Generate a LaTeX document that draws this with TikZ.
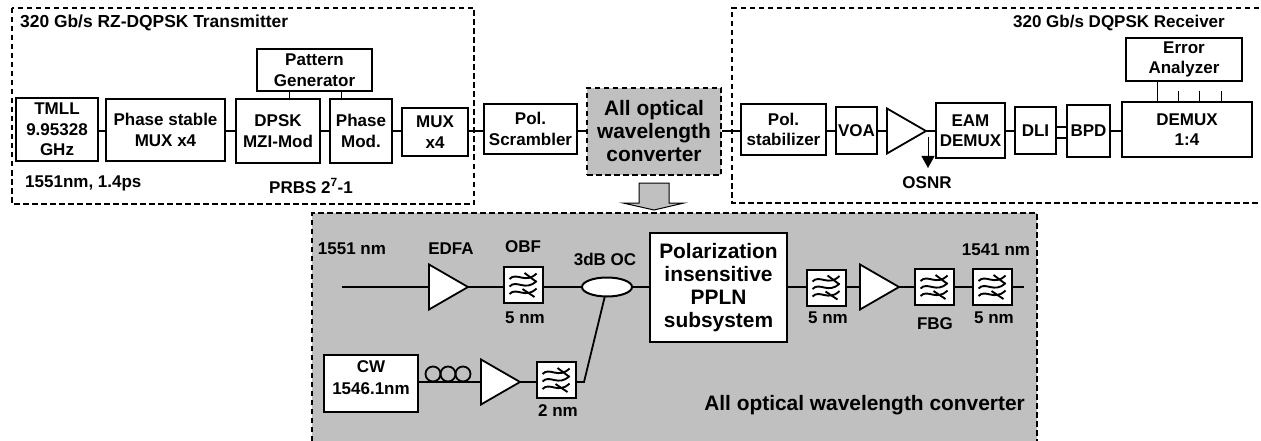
\documentclass[tikz,border=0pt]{standalone}
\usepackage{fontspec}
\setmainfont{Liberation Sans}
\usepackage{xcolor}
\usetikzlibrary{
    positioning,
    arrows.meta,
    calc,
    shapes.geometric
}
\definecolor{panelgray}{HTML}{C0C0C0}
\tikzset{
    wire/.style={line width=1.8pt},
    thinwire/.style={line width=0.9pt},
    dashframe/.style={line width=1.5pt, dash pattern=on 5.5pt off 3.5pt},
    labeltext/.style={font=\bfseries\fontsize{17}{20.5}\selectfont, inner sep=0pt, align=center},
    bigtext/.style={font=\bfseries\fontsize{20.9}{23}\selectfont, inner sep=0pt, align=center},
    blockbox/.style={draw, line width=2pt, fill=white, inner sep=0pt, outer sep=0pt, align=center, font=\bfseries\fontsize{17}{20.5}\selectfont},
    amptri/.style={draw, line width=1.8pt, fill=white, shape=isosceles triangle, isosceles triangle stretches, minimum width=45pt, minimum height=39pt, inner sep=0pt, outer sep=0pt, anchor=apex},
    filterbox/.style={blockbox, minimum width=39pt, minimum height=36pt,
        path picture={
            \begin{scope}[shift={(path picture bounding box.center)}, line width=1.9pt]
                \foreach \w in {-7.5,0,7.5} {
                    \draw (-14,\w+1.5) .. controls (-7,\w-6) and (2,\w+7) .. (13,\w-4);
                }
                \draw (1,-12) -- (13,-3);
                \draw (-1,4) -- (11,12);
            \end{scope}
        }}
}
\begin{document}
\begin{tikzpicture}[x=1pt,y=-1pt]
    \useasboundingbox (0,0) rectangle (1261,441);
    \coordinate (rail) at (0,131);
    \coordinate (lowrail) at (0,287);
    \coordinate (cwrail) at (0,382);

    % frames
    \draw[dashframe] (12,8) rectangle (474,204);
    \draw[dashframe] (1259,8) -- (732,8) -- (732,203) -- (1259,203);
    \fill[panelgray] (312,213) rectangle (1037,441);
    \draw[dashframe] (312,441) -- (312,213) -- (1037,213) -- (1037,441);

    % transmitter
    \node[blockbox, minimum width=82pt, minimum height=63pt] (tmll) at (57,129.5) {TMLL\\9.95328\\GHz};
    \node[blockbox, minimum width=119pt, minimum height=62pt] (stablemux) at (165.5,130) {Phase stable\\MUX x4};
    \node[blockbox, minimum width=84pt, minimum height=64pt] (dpsk) at (278,131) {DPSK\\MZI-Mod};
    \node[blockbox, minimum width=62pt, minimum height=64pt] (phasemod) at (361,131) {Phase\\Mod.};
    \node[blockbox, minimum width=66pt, minimum height=48pt] (muxfour) at (435,132) {MUX\\x4};
    \node[blockbox, minimum width=115pt, minimum height=42pt] (pattern) at (314.5,70) {Pattern\\Generator};

    % middle
    \node[blockbox, minimum width=93pt, minimum height=50pt] (scrambler) at (530.5,129) {Pol.\\Scrambler};
    \node[bigtext, draw, dashframe, fill=panelgray, minimum width=134pt, minimum height=87pt] (converter) at (654,131.5) {All optical\\wavelength\\converter};
    \draw[line width=1pt, fill=panelgray] (639,183) -- (669,183) -- (669,203) -- (684,203) -- (654,210) -- (623,203) -- (639,203) -- cycle;

    % receiver
    \node[blockbox, minimum width=85pt, minimum height=51pt] (stabilizer) at (783.5,129.5) {Pol.\\stabilizer};
    \node[blockbox, minimum width=41pt, minimum height=47pt] (voa) at (856.5,130.5) {VOA};
    \node[amptri] (ampa) at (926,131) {};
    \node[blockbox, minimum width=69pt, minimum height=55pt] (eam) at (970.5,130.5) {EAM\\DEMUX};
    \node[blockbox, minimum width=41pt, minimum height=47pt] (dli) at (1035.5,130.5) {DLI};
    \node[blockbox, minimum width=43pt, minimum height=52pt] (bpd) at (1088.5,131) {BPD};
    \node[blockbox, minimum width=130pt, minimum height=55pt] (demuxb) at (1187,129.5) {DEMUX\\1:4};
    \node[blockbox, minimum width=116pt, minimum height=43pt] (analyzer) at (1184,59.5) {Error\\Analyzer};
    \coordinate (osnrtap) at (928,137);
    \coordinate (osnrend) at (928,168);

    % converter detail
    \coordinate (inputa) at (342,287);
    \coordinate (outputa) at (1024,287);
    \node[amptri] (ampb) at (468,287) {};
    \node[filterbox] (obf) at (523.5,285) {};
    \node[draw, line width=2pt, fill=white, shape=ellipse, minimum width=50pt, minimum height=19pt, inner sep=0pt, outer sep=0pt] (coupler) at (607,287) {};
    \node[blockbox, minimum width=137pt, minimum height=109pt, font=\bfseries\fontsize{20.9}{23}\selectfont] (ppln) at (718.5,287.5) {Polarization\\insensitive\\PPLN\\subsystem};
    \node[filterbox] (filterc) at (826.5,287.5) {};
    \node[amptri] (ampc) at (899,287) {};
    \node[filterbox] (fbg) at (934.5,287) {};
    \node[filterbox] (filterd) at (992.5,287) {};
    \node[blockbox, minimum width=94pt, minimum height=57pt] (cw) at (371,383.5) {CW\\[1pt]1546.1nm\\[-9pt]\mbox{}};
    \node[amptri] (ampd) at (520,382) {};
    \node[filterbox] (filtercw) at (556.5,380) {};
    \coordinate (bend) at (584,382);
    \foreach \i/\x in {1/433,2/448,3/463} {
        \node[draw, circle, line width=1.8pt, minimum size=15pt, inner sep=0pt] (coil\i) at (\x,374) {};
    }

    % connectors
    \draw[wire] (tmll.east |- rail) -- (stablemux.west |- rail);
    \draw[wire] (stablemux.east |- rail) -- (dpsk.west |- rail);
    \draw[wire] (dpsk.east |- rail) -- (phasemod.west |- rail);
    \draw[wire] (phasemod.east |- rail) -- (muxfour.west |- rail);
    \draw[wire] (muxfour.east |- rail) -- (scrambler.west |- rail);
    \draw[wire] (scrambler.east |- rail) -- (converter.west |- rail);
    \draw[wire] (converter.east |- rail) -- (stabilizer.west |- rail);
    \draw[wire] (stabilizer.east |- rail) -- (voa.west |- rail);
    \draw[wire] (voa.east |- rail) -- (ampa.lower side |- rail);
    \draw[wire] (ampa.apex) -- (eam.west |- rail);
    \draw[wire] ($(dli.east |- rail)+(0,-4)$) -- ($(bpd.west |- rail)+(0,-4)$);
    \draw[wire] ($(dli.east |- rail)+(0,7)$) -- ($(bpd.west |- rail)+(0,7)$);
    \draw[wire] (eam.east |- rail) -- (dli.west |- rail);
    \draw[wire] (bpd.east |- rail) -- (demuxb.west |- rail);
    \draw[thinwire] (pattern.south -| 289,0) -- (dpsk.north -| 289,0);
    \draw[thinwire] (pattern.south -| 341,0) -- (phasemod.north -| 341,0);
    \draw[thinwire] (analyzer.south -| 1157,0) -- (demuxb.north -| 1157,0);
    \foreach \x in {1178,1199,1221} {
        \draw[thinwire] (\x,91) -- (demuxb.north -| \x,0);
    }
    \draw[thinwire, -{Triangle[length=12pt,width=13pt]}] (osnrtap) -- (osnrend);

    \draw[wire] (inputa) -- (ampb.lower side |- lowrail);
    \draw[wire] (ampb.apex) -- (obf.west |- lowrail);
    \draw[wire] (obf.east |- lowrail) -- (coupler.west);
    \draw[wire] (coupler.east) -- (ppln.west |- lowrail);
    \draw[wire] (ppln.east |- lowrail) -- (filterc.west |- lowrail);
    \draw[wire] (filterc.east |- lowrail) -- (ampc.lower side |- lowrail);
    \draw[wire] (ampc.apex) -- (fbg.west |- lowrail);
    \draw[wire] (fbg.east |- lowrail) -- (filterd.west |- lowrail);
    \draw[wire] (filterd.east |- lowrail) -- (outputa);
    \draw[wire] (cw.east |- cwrail) -- (ampd.lower side |- cwrail);
    \draw[wire] (ampd.apex) -- (filtercw.west |- cwrail);
    \draw[wire] (filtercw.east |- cwrail) -- (bend) -- (coupler.-103);

    % labels
    \node[labeltext, anchor=west, font=\bfseries\fontsize{17.4}{20}\selectfont] (txtitle) at (20,23) {320 Gb/s RZ-DQPSK Transmitter};
    \node[labeltext, anchor=west] (pulselabel) at (25,183) {1551nm, 1.4ps};
    \node[labeltext] (prbslabel) at (311,186) {PRBS 2\textsuperscript{7}-1};
    \node[labeltext, anchor=east] (rxtitle) at (1225,23) {320 Gb/s DQPSK Receiver};
    \node[labeltext] (osnrlabel) at (927,183) {OSNR};
    \node[labeltext] (inlabel) at (352,249) {1551 nm};
    \node[labeltext] (edfalabel) at (451,249) {EDFA};
    \node[labeltext] (obflabel) at (523,247) {OBF};
    \node[labeltext] (obfwidth) at (525,318) {5 nm};
    \node[labeltext] (couplerlabel) at (605,259) {3dB OC};
    \node[labeltext] (cwwidth) at (558,411) {2 nm};
    \node[labeltext] (filtercwidth) at (828,318) {5 nm};
    \node[labeltext] (fbglabel) at (935,324) {FBG};
    \node[labeltext] (filterdwidth) at (994,318) {5 nm};
    \node[labeltext] (outlabel) at (996,250) {1541 nm};
    \node[bigtext, anchor=east] (panellabel) at (1025,405) {All optical wavelength converter};
\end{tikzpicture}
\end{document}
